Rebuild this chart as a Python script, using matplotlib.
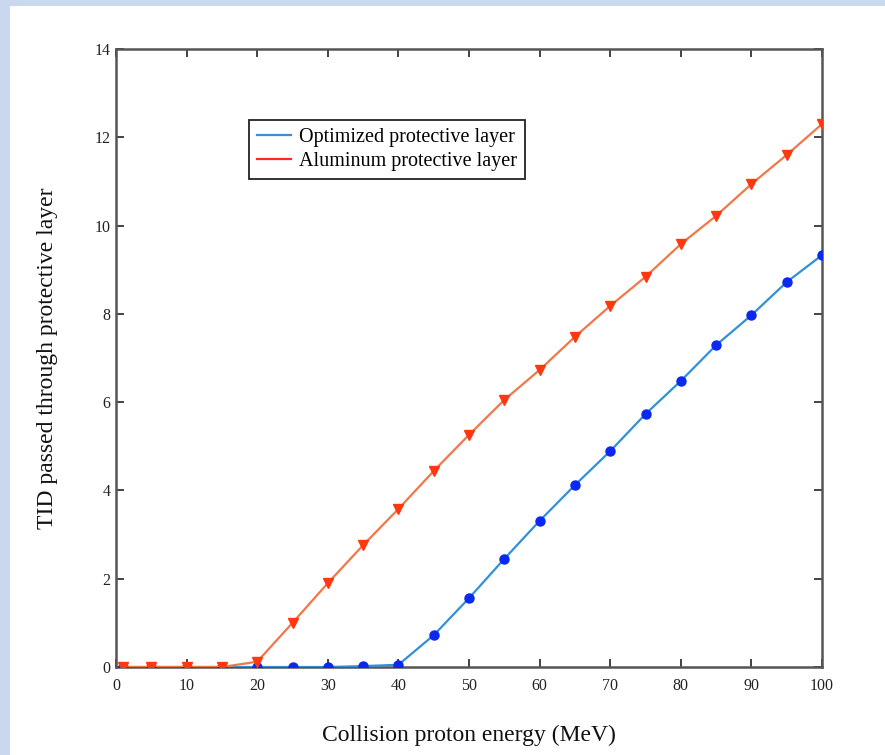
import numpy as np
import matplotlib.pyplot as plt
from matplotlib.patches import Rectangle

plt.rcParams['font.family'] = ['Liberation Serif', 'DejaVu Serif']

energy = [1, 5, 10, 15, 20, 25, 30, 35, 40, 45, 50, 55, 60, 65, 70, 75, 80, 85, 90, 95, 100]
tid_optimized = [0, 0, 0, 0, 0, 0, 0, 0.02, 0.05, 0.72, 1.56, 2.45, 3.31, 4.12, 4.89,
                 5.73, 6.48, 7.29, 7.97, 8.72, 9.33]
tid_aluminum = [0, 0, 0, 0, 0.12, 1.0, 1.9, 2.76, 3.58, 4.44, 5.26, 6.05, 6.73, 7.48, 8.18,
                8.84, 9.58, 10.22, 10.94, 11.6, 12.3]

fig = plt.figure(figsize=(8.85, 7.55), dpi=100, facecolor='#c9d8ee')
# white page area inside the light blue frame
fig.patches.append(Rectangle((10/885, 0), 1, 1 - 6/755, transform=fig.transFigure,
                             facecolor='white', edgecolor='none', zorder=-5))

ax = fig.add_axes([116/885, (755-667)/755, (822-116)/885, (667-49)/755])

ax.plot(energy, tid_optimized, color='#3090d8', lw=1.6, marker='o', ms=6.5,
        mfc='#0a28f0', mec='#0a28f0', label='Optimized protective layer', zorder=3)
ax.plot(energy, tid_aluminum, color='#f07848', lw=1.6, marker='v', ms=7,
        mfc='#ff3810', mec='#ff3810', label='Aluminum protective layer', zorder=3)

ax.set_xlim(0, 100)
ax.set_ylim(0, 14)
ax.set_xticks(range(0, 101, 10))
ax.set_yticks(range(0, 15, 2))
ax.tick_params(direction='in', top=True, right=True, length=6, width=1.2,
               labelsize=11.5, colors='#222222')
ax.tick_params(axis='x', pad=8)
ax.tick_params(axis='y', pad=4)
for side in ['left', 'right', 'top', 'bottom']:
    ax.spines[side].set_color('#555555')
    ax.spines[side].set_linewidth(1.8)

ax.set_xlabel('Collision proton energy (MeV)', fontsize=17, labelpad=22, color='#111111')
ax.set_ylabel('TID passed through protective layer', fontsize=17, labelpad=26, color='#111111')

handles = [plt.Line2D([], [], color='#3a8fd8', lw=1.6),
           plt.Line2D([], [], color='#ff2828', lw=1.6)]
leg = ax.legend(handles, ['Optimized protective layer', 'Aluminum protective layer'],
                loc='upper left', bbox_to_anchor=(0.188, 0.885), fontsize=14.5,
                frameon=True, fancybox=False, edgecolor='#222222', framealpha=1,
                handlelength=1.7, handletextpad=0.4, borderpad=0.4, labelspacing=0.25,
                borderaxespad=0)
leg.get_frame().set_linewidth(1.3)

fig.savefig('out.png', dpi=100, facecolor=fig.get_facecolor())
